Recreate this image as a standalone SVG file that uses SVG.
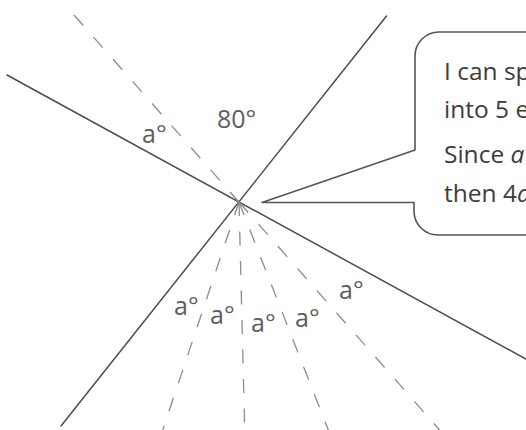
<svg xmlns="http://www.w3.org/2000/svg" width="526" height="430" viewBox="0 0 526 430">
<style>
.solid{stroke:#4d4d4d;stroke-width:1.5;fill:none;stroke-linecap:round}
.dash{stroke:#8c8c8c;stroke-width:1.3;fill:none;stroke-dasharray:14 15.5}
.lbl{font-family:"Open Sans","DejaVu Sans",sans-serif;font-size:25px;fill:#5e5e5e}
.call{font-family:"Open Sans","Liberation Sans",sans-serif;font-size:24.5px;fill:#3c3c3c}
.bubble{fill:#ffffff;stroke:#555555;stroke-width:1.6;stroke-linejoin:round}
</style>
<rect width="526" height="430" fill="#ffffff"/>
<g id="connectors">
<line class="solid" x1="7" y1="75" x2="527" y2="359.6"/>
<line class="solid" x1="386.5" y1="16" x2="61" y2="426"/>
<line class="dash" x1="74" y1="15" x2="239" y2="202"/>
<line class="dash" x1="239" y1="202" x2="162.7" y2="430"/>
<line class="dash" x1="239" y1="202" x2="244.7" y2="430"/>
<line class="dash" x1="239" y1="202" x2="328.3" y2="430"/>
<line class="dash" x1="239" y1="202" x2="439.6" y2="430"/>
</g>
<g id="labels">
<text class="lbl" x="142" y="143">a°</text>
<text class="lbl" x="217" y="128">80°</text>
<text class="lbl" x="174" y="315">a°</text>
<text class="lbl" x="210" y="324">a°</text>
<text class="lbl" x="251" y="332">a°</text>
<text class="lbl" x="295" y="327">a°</text>
<text class="lbl" x="339" y="299">a°</text>
</g>
<g id="callout">
<path class="bubble" d="M 530 32 H 439 A 24 24 0 0 0 415 56 V 150 L 262 202.5 H 414 V 211 A 24 24 0 0 0 438 235 H 530"/>
<text class="call" x="444" y="80">I can sp</text>
<text class="call" x="444" y="118">into 5 e</text>
<text class="call" x="444" y="163">Since <tspan font-style="italic">a</tspan></text>
<text class="call" x="444" y="202">then 4<tspan font-style="italic">a</tspan></text>
</g>
</svg>
